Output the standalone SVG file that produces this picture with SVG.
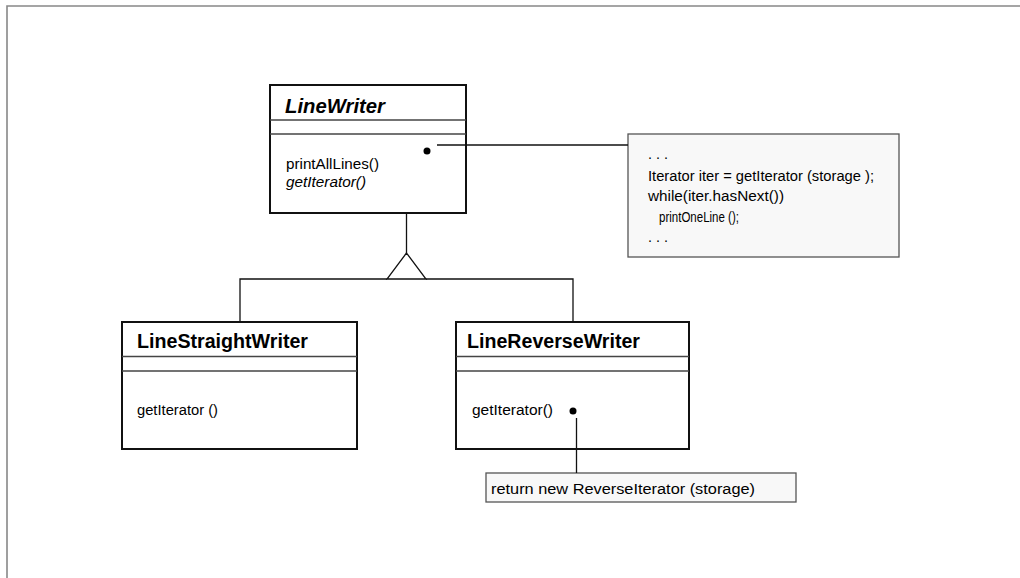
<svg xmlns="http://www.w3.org/2000/svg" width="1020" height="578" viewBox="0 0 1020 578">
  <style>
    text { font-family: "Liberation Sans Narrow", "Liberation Sans", Arial, sans-serif; fill: #000; }
    .title { font-size: 20px; font-weight: bold; }
    .op { font-size: 14px; }
    .note-text { font-size: 14px; }
    .cls { fill: #fff; stroke: #111; stroke-width: 2; }
    .div { stroke: #444; stroke-width: 1.5; fill: none; }
    .conn { stroke: #111; stroke-width: 1.3; fill: none; }
    .dot { fill: #000; }
    .note { fill: #f8f8f8; stroke: #555; stroke-width: 1.3; }
    .frame { fill: none; stroke: #888; stroke-width: 1.6; }
  </style>

  <!-- page frame -->
  <path class="frame" d="M7,578 V6 H1020"/>

  <g id="LineWriter">
    <rect class="cls" x="270" y="85" width="196" height="128"/>
    <line class="div" x1="270" y1="120" x2="466" y2="120"/>
    <line class="div" x1="270" y1="134" x2="466" y2="134"/>
    <text class="title" x="285" y="113" font-style="italic" textLength="100" lengthAdjust="spacingAndGlyphs">LineWriter</text>
    <text class="op" x="286" y="169" textLength="93" lengthAdjust="spacingAndGlyphs">printAllLines()</text>
    <text class="op" x="286" y="187" font-style="italic" textLength="80" lengthAdjust="spacingAndGlyphs">getIterator()</text>
  </g>

  <g id="LineStraightWriter">
    <rect class="cls" x="122" y="322" width="235" height="127"/>
    <line class="div" x1="122" y1="356.5" x2="357" y2="356.5"/>
    <line class="div" x1="122" y1="371" x2="357" y2="371"/>
    <text class="title" x="137" y="348" textLength="171" lengthAdjust="spacingAndGlyphs">LineStraightWriter</text>
    <text class="op" x="137" y="415" textLength="81" lengthAdjust="spacingAndGlyphs">getIterator ()</text>
  </g>

  <g id="LineReverseWriter">
    <rect class="cls" x="456" y="322" width="233" height="127"/>
    <line class="div" x1="456" y1="356.5" x2="689" y2="356.5"/>
    <line class="div" x1="456" y1="371" x2="689" y2="371"/>
    <text class="title" x="467" y="348" textLength="173" lengthAdjust="spacingAndGlyphs">LineReverseWriter</text>
    <text class="op" x="472" y="415" textLength="81" lengthAdjust="spacingAndGlyphs">getIterator()</text>
  </g>

  <g id="printAllLinesNote">
    <rect class="note" x="628" y="134" width="271" height="123"/>
    <text class="note-text" x="648" y="159" textLength="20" lengthAdjust="spacingAndGlyphs">. . .</text>
    <text class="note-text" x="648" y="181" textLength="226" lengthAdjust="spacingAndGlyphs">Iterator iter = getIterator (storage );</text>
    <text class="note-text" x="648" y="201" textLength="136" lengthAdjust="spacingAndGlyphs">while(iter.hasNext())</text>
    <text class="note-text" x="659" y="222" textLength="80" lengthAdjust="spacingAndGlyphs">printOneLine ();</text>
    <text class="note-text" x="648" y="242" textLength="20" lengthAdjust="spacingAndGlyphs">. . .</text>
  </g>

  <g id="getIteratorNote">
    <rect class="note" x="486" y="473" width="310" height="29"/>
    <text class="note-text" x="491" y="494" textLength="264" lengthAdjust="spacingAndGlyphs">return new ReverseIterator (storage)</text>
  </g>

  <!-- connectors, drawn over the class boxes so the anchor dots show -->
  <g id="connectors">
    <!-- generalization -->
    <line class="conn" x1="406.5" y1="214" x2="406.5" y2="253"/>
    <polygon class="conn" fill="#fff" points="406.5,253 387,279 426,279"/>
    <polyline class="conn" points="240,321 240,279 387,279"/>
    <polyline class="conn" points="426,279 573,279 573,321"/>
    <!-- note links -->
    <circle class="dot" cx="427" cy="151" r="3.5"/>
    <line class="conn" x1="437" y1="145" x2="628" y2="145"/>
    <circle class="dot" cx="573" cy="411" r="3.5"/>
    <line class="conn" x1="576.5" y1="418" x2="576.5" y2="473"/>
  </g>
</svg>
